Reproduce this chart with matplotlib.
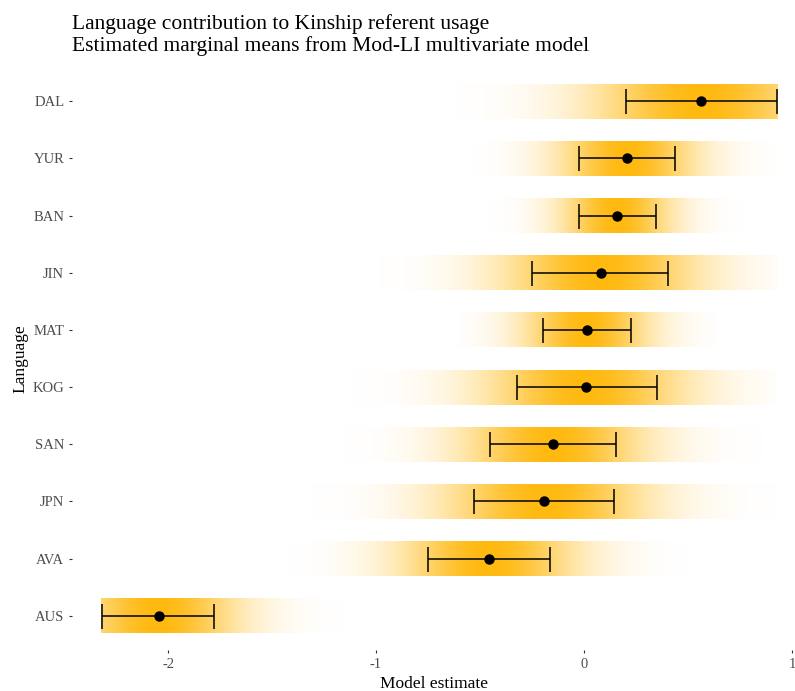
import numpy as np
import matplotlib
matplotlib.use("Agg")
import matplotlib.pyplot as plt

plt.rcParams['font.family'] = ['Liberation Serif', 'DejaVu Serif']

languages = ["AUS", "AVA", "JPN", "SAN", "KOG", "MAT", "JIN", "BAN", "YUR", "DAL"]
estimate = [-2.045, -0.457, -0.19, -0.147, 0.01, 0.013, 0.08, 0.159, 0.207, 0.5625]
lower = [-2.317, -0.75, -0.53, -0.45, -0.32, -0.197, -0.248, -0.024, -0.023, 0.20]
upper = [-1.78, -0.163, 0.145, 0.156, 0.35, 0.226, 0.406, 0.346, 0.438, 0.926]
band_lo = [-2.32, -1.44, -1.33, -1.15, -1.19, -0.61, -0.985, -0.46, -0.54, -0.61]
band_hi = [-1.13, 0.495, 0.93, 0.93, 0.93, 0.63, 0.93, 0.765, 0.93, 0.93]
xticks = [-2, -1, 0, 1]

peak = np.array([255, 185, 15]) / 255.0

W, H = 795, 691
fig = plt.figure(figsize=(W / 100, H / 100), dpi=100)
left_px, right_px, top_px, bot_px = 72, 795, 67, 650
ax = fig.add_axes([left_px / W, (H - bot_px) / H, (right_px - left_px) / W, (bot_px - top_px) / H])

half_h = 0.305
for i, lang in enumerate(languages):
    y = i + 1
    sd = (upper[i] - lower[i]) / 2.0
    xs = np.linspace(band_lo[i], band_hi[i], 600)
    a = np.exp(-0.5 * ((xs - estimate[i]) / sd) ** 2)
    img = np.zeros((1, len(xs), 4))
    img[0, :, :3] = peak
    img[0, :, 3] = a
    ax.imshow(img, extent=[band_lo[i], band_hi[i], y - half_h, y + half_h],
              aspect='auto', interpolation='bilinear', zorder=1)

ys = np.arange(1, len(languages) + 1)
est = np.array(estimate)
lo = np.array(lower)
hi = np.array(upper)
ax.errorbar(est, ys, xerr=[est - lo, hi - est], fmt='o', color='black',
            ecolor='black', elinewidth=1.1, capsize=9, capthick=1.1,
            markersize=6.5, zorder=3)

# x mapping: 0 at 584 px, 208 px per unit
ax.set_xlim((left_px - 584) / 208, (right_px - 584) / 208)
ax.set_ylim(0.4, len(languages) + 0.6)
ax.set_yticks(ys)
ax.set_yticklabels(languages)
ax.set_xticks(xticks)
ax.set_xticklabels([str(t) for t in xticks])
for s in ax.spines.values():
    s.set_visible(False)
ax.tick_params(axis='both', colors='#333333', length=2.5, width=0.8,
               labelsize=10.5, labelcolor='#4d4d4d', pad=3)
ax.set_xlabel("Model estimate", fontsize=12.5, labelpad=4)
ax.set_ylabel("Language", fontsize=12.5, labelpad=3)

fig.text(left_px / W, 1 - 14 / H,
         "Language contribution to Kinship referent usage\nEstimated marginal means from Mod-LI multivariate model",
         fontsize=15.5, va='top', ha='left', linespacing=1.12)

fig.savefig("out.png", dpi=100)
